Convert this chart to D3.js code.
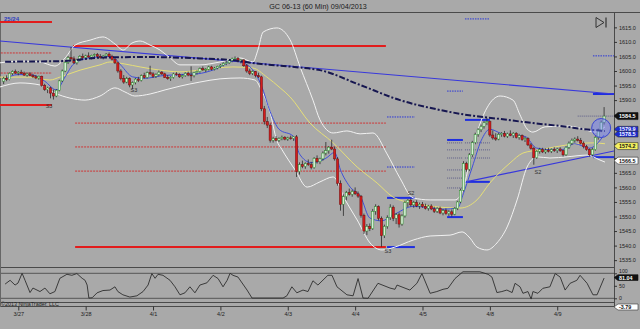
<!DOCTYPE html>
<html><head><meta charset="utf-8">
<script src="https://cdn.jsdelivr.net/npm/d3@7"></script>
<style>body{margin:0;background:#a9a9a9;}svg{display:block;font-family:"Liberation Sans",Arial,sans-serif;}</style>
</head><body><svg id="c" width="640" height="329"></svg>
<script>
// ---------- DATA ----------
const titleText = "GC 06-13 (60 Min)  09/04/2013";
const dayStartIdx = [5, 28, 51, 74, 97, 120, 143, 166, 189];
const dayLabels = ["3/27","3/28","4/1","4/2","4/3","4/4","4/5","4/8","4/9"];
const priceTicks = [1535,1540,1545,1550,1555,1560,1565,1570,1575,1580,1585,1590,1595,1600,1605,1610,1615];
const oscTicks = [0,50,100];

const opens = [1596.5,1597.5,1597,1599.2,1599.8,1599.3,1599.6,1599.2,1598.6,1599,
1598.4,1598,1597.6,1598.2,1595,1593.6,1594.2,1592.4,1591.4,1593.4,
1596.6,1600,1603,1604.6,1604.2,1602.8,1603.8,1605,1604.6,1605.2,
1604.8,1605.4,1605.6,1605,1604.6,1605.2,1605.8,1605,1604,1602.8,
1600,1597.4,1596.2,1597.4,1595.2,1596,1597.2,1596.8,1598.4,1597.8,
1599.4,1599,1598.2,1598.8,1599.6,1599,1597.8,1597.4,1597.8,1599,
1598.8,1598,1598.4,1599.2,1598.6,1598.4,1599.4,1599.8,1600.8,1600.4,
1600.6,1601.4,1600.6,1601,1601.6,1602,1602.6,1602.8,1603.6,1604.2,
1604.4,1603.4,1603.8,1601.8,1600,1599.2,1599.8,1598.4,1598,1587,
1582.6,1581.4,1576.2,1576.8,1576.2,1576.8,1577.2,1576.6,1577,1576.8,
1577.4,1565.4,1567.8,1567.2,1568.2,1567.8,1566.8,1570,1568.8,1569.8,
1571.8,1572.6,1573.8,1573.2,1569.8,1561.4,1554.2,1556.8,1558.2,1557.6,
1558.6,1557.8,1557,1550.4,1545,1546.6,1545.8,1551.8,1553.4,1549.4,
1543.4,1546.6,1549.6,1553.2,1549.4,1550.6,1547.4,1550.2,1554.8,1555.6,
1554,1554.8,1553.6,1554.2,1553.4,1552.8,1553.6,1552.6,1551.8,1552.8,
1551.2,1552,1551,1551.6,1550.8,1552.8,1555,1559,1568.2,1566.2,
1571.2,1575.4,1578.2,1579.8,1581,1582.2,1582.6,1578,1577,1576.6,
1578.2,1578.6,1577.6,1578.4,1577.8,1578.6,1577.2,1577.8,1576.4,1576.8,
1574.6,1573.4,1570.2,1572.4,1573,1572.2,1572.8,1572.4,1573,1572.6,
1573.2,1572.6,1571.2,1573.8,1575.2,1576.2,1576.6,1576.2,1575.2,1574,
1573,1571.2,1573,1577.2,1579.6,1582.4];
const highs = [1598,1598.5,1599.5,1600.2,1600.5,1600,1600.4,1599.8,1599.5,1599.6,
1599,1598.6,1598.4,1598.4,1595.6,1594.6,1594.6,1593.6,1593.8,1597,
1600.5,1603.4,1605.2,1608.2,1605,1604.2,1605.4,1606,1605.6,1606.4,
1605.6,1606,1606.2,1605.8,1605.4,1606.2,1606.4,1605.6,1604.6,1603.2,
1600.6,1598.6,1598,1597.8,1596.4,1597.6,1598,1598.8,1599.4,1599.8,
1601.8,1599.6,1599.2,1600.2,1600,1599.4,1598.6,1598.2,1599.4,1599.6,
1599.2,1598.8,1599.6,1599.8,1601.6,1599.6,1600.2,1601.2,1601.6,1601,
1601.8,1601.8,1601.4,1601.8,1602.4,1603,1603.4,1604,1604.6,1605,
1604.8,1604,1604,1602.4,1600.8,1600.2,1600,1599.4,1598.4,1588,
1584.2,1582,1577.4,1577.6,1577.2,1577.8,1577.6,1577.4,1577.8,1577.6,
1578,1568.6,1569.2,1568.6,1569.6,1568.8,1570.4,1571,1570.2,1572.4,
1575.6,1574.2,1576.4,1574,1570.4,1562.4,1557.6,1558.8,1559.6,1559.2,
1560,1558.6,1557.4,1551,1547.4,1547.6,1552.6,1554.2,1553.8,1550,
1547.2,1550.4,1554.2,1553.8,1551.2,1551.4,1550.8,1555.4,1556,1556.2,
1555.4,1555.6,1554.8,1555,1554.4,1554,1554.2,1553.4,1553.2,1553.4,
1552.6,1552.8,1552.2,1552.4,1553.2,1555.4,1559.6,1569,1568.8,1571.8,
1576,1578.8,1580.4,1581.6,1582.8,1583.8,1583,1579.6,1578.6,1578.8,
1579,1579.4,1578.8,1579.6,1579,1579,1578.4,1578.2,1577.4,1577.2,
1575.2,1574,1572.8,1573.6,1573.6,1573.4,1573.6,1573.4,1573.8,1573.6,
1573.8,1573,1574.2,1575.8,1576.8,1577.2,1577.6,1577,1575.8,1574.6,
1573.4,1573.6,1577.6,1580.2,1583,1587.6];
const lows = [1595.5,1596.5,1596.8,1598.6,1599,1598.5,1599,1598.3,1598,1598.2,
1597.6,1597.2,1597,1594.6,1593.2,1592.4,1590.6,1590.2,1591,1593,
1596.2,1599.6,1602.4,1603.6,1602.4,1602.2,1603.4,1604.2,1604,1604.6,
1604,1604.8,1604.6,1604.2,1604,1604.8,1604.8,1603.6,1602.4,1599.4,
1596.8,1595.6,1595.8,1594.4,1593.8,1595.4,1596.2,1596.4,1597.4,1597.4,
1598.6,1597.6,1597.6,1598.2,1598.6,1597.6,1597,1596.6,1597.4,1598.4,
1597.6,1597.4,1598,1598.2,1596.6,1597.8,1598.8,1599.4,1600,1599.6,
1600.2,1600.2,1600.2,1600.6,1601,1601.6,1602,1602.4,1603,1603.6,
1603,1602.6,1601.4,1599.4,1598.6,1598.6,1597.8,1597.6,1586.2,1581.6,
1580.4,1575.4,1575.4,1575.8,1575.6,1576.2,1576.2,1576,1576.4,1576,
1563.6,1564.4,1566.6,1566.4,1567.4,1566.2,1566.4,1568.2,1568,1569.2,
1571,1571.6,1572.8,1569.2,1560.6,1552,1550.2,1555.6,1557.2,1556.8,
1557.4,1556.4,1549.6,1544,1543.6,1545,1545.4,1550.6,1548.6,1539.6,
1542.6,1545.8,1548.8,1548.4,1547.4,1546.2,1546.8,1549.6,1553.2,1553.4,
1553,1553.2,1552.6,1553,1552.4,1552,1552.2,1551.2,1551.2,1550.8,
1550.4,1550.6,1550.2,1550,1550.4,1552.2,1554.6,1558.6,1565.4,1565.6,
1570.4,1574.8,1577.4,1579,1580.2,1581.4,1577.4,1576.4,1576,1576.2,
1577.4,1577.2,1577,1577.6,1577,1576.8,1576.4,1576,1575.6,1574.2,
1573,1567.8,1569.8,1571.6,1571.8,1571.6,1572,1571.8,1572.2,1571.8,
1572.2,1570.6,1570.8,1573.2,1574.6,1575.4,1575.8,1574.8,1573.4,1572.6,
1570.6,1570.6,1572.6,1576.4,1579,1581.6];
const closes = [1597.5,1597,1599.2,1599.8,1599.3,1599.6,1599.2,1598.6,1599,1598.4,
1598,1597.6,1598.2,1595,1593.6,1594.2,1592.4,1591.4,1593.4,1596.6,
1600,1603,1604.6,1604.2,1602.8,1603.8,1605,1604.6,1605.2,1604.8,
1605.4,1605.6,1605,1604.6,1605.2,1605.8,1605,1604,1602.8,1600,
1597.4,1596.2,1597.4,1595.2,1596,1597.2,1596.8,1598.4,1597.8,1599.4,
1599,1598.2,1598.8,1599.6,1599,1597.8,1597.4,1597.8,1599,1598.8,
1598,1598.4,1599.2,1598.6,1598.4,1599.4,1599.8,1600.8,1600.4,1600.6,
1601.4,1600.6,1601,1601.6,1602,1602.6,1602.8,1603.6,1604.2,1604.4,
1603.4,1603.8,1601.8,1600,1599.2,1599.8,1598.4,1598,1587,1582.6,
1581.4,1576.2,1576.8,1576.2,1576.8,1577.2,1576.6,1577,1576.8,1577.4,
1565.4,1567.8,1567.2,1568.2,1567.8,1566.8,1570,1568.8,1569.8,1571.8,
1572.6,1573.8,1573.2,1569.8,1561.4,1554.2,1556.8,1558.2,1557.6,1558.6,
1557.8,1557,1550.4,1545,1546.6,1545.8,1551.8,1553.4,1549.4,1543.4,
1546.6,1549.6,1553.2,1549.4,1550.6,1547.4,1550.2,1554.8,1555.6,1554,
1554.8,1553.6,1554.2,1553.4,1552.8,1553.6,1552.6,1551.8,1552.8,1551.2,
1552,1551,1551.6,1550.8,1552.8,1555,1559,1568.2,1566.2,1571.2,
1575.4,1578.2,1579.8,1581,1582.2,1582.6,1578,1577,1576.6,1578.2,
1578.6,1577.6,1578.4,1577.8,1578.6,1577.2,1577.8,1576.4,1576.8,1574.6,
1573.4,1570.2,1572.4,1573,1572.2,1572.8,1572.4,1573,1572.6,1573.2,
1572.6,1571.2,1573.8,1575.2,1576.2,1576.6,1576.2,1575.2,1574,1573,
1571.2,1573,1577.2,1579.6,1582.4,1584.5];

// Bollinger upper / lower / middle (yellow), read as [bar index, price] vertices
const upperBand = [[-1.3,1602.8],[5.6,1603.4],[12.4,1603.1],[17.5,1601.7],[21,1604.5],[24.4,1608.9],[29.5,1610.6],[33.9,1611.7],[38,1609.3],[40.8,1607.2],[43.8,1609.6],[46.6,1610.3],[50,1608.9],[53.4,1607.2],[56.8,1604.5],[60.2,1602.1],[67,1602.1],[73.9,1603.1],[80.7,1604.5],[85.1,1603.1],[86.8,1607.2],[88.6,1613.4],[93.3,1614.8],[97.8,1610.7],[101.2,1601.4],[105.6,1590],[108,1583.2],[112.5,1578.7],[117.2,1579.4],[121.7,1578.4],[126.1,1578.7],[130.9,1571.5],[135.3,1563.2],[139.8,1556.4],[145.6,1555.7],[154.1,1555.7],[156.8,1559.1],[159.2,1569.4],[161.6,1578.7],[165,1587.3],[169.5,1591.4],[173.9,1590],[176.3,1584.9],[178.7,1580.1],[180.7,1579],[184.8,1580.8],[192.3,1581.1],[196.8,1580.4],[201.9,1579],[205.3,1580.8]];
const lowerBand = [[-1.3,1594.5],[5.6,1595.9],[12.4,1595.2],[17.5,1592.4],[22.6,1590.7],[27.8,1590],[32.9,1591.4],[38,1594.2],[41.4,1592.8],[44.8,1591.4],[50,1592.1],[55.1,1593.5],[60.2,1594.8],[67,1596.2],[73.9,1597.3],[80.7,1597.6],[85.8,1596.9],[88.2,1593],[90.9,1586],[93.3,1576],[95,1573],[99.5,1566],[103.6,1560.1],[108,1561.9],[112.5,1563.6],[116.6,1555.7],[120.7,1548.8],[125.1,1540.9],[129.2,1538.5],[133.6,1539.5],[139.8,1541.9],[145.6,1543.3],[152.4,1543.6],[156.5,1544.7],[159.2,1542.6],[161.6,1539.5],[165,1538.5],[168.4,1540.9],[171.9,1546.4],[175.3,1555.7],[178.7,1567],[182.1,1570.5],[186.5,1570.1],[192.3,1570.5],[199.2,1571.1],[203.6,1569.4],[205.3,1568.7]];
const midBand = [[-1.3,1597.9],[9,1597.9],[15.8,1596.9],[19.2,1597.9],[26.1,1600.3],[32.9,1602.1],[36.3,1603.1],[41.4,1602.4],[46.6,1601.4],[53.4,1600.3],[60.2,1599.7],[67,1600.3],[78.3,1601.4],[85.1,1601],[89.9,1597.9],[94.4,1594.2],[97.8,1591.1],[104.6,1582.1],[112.5,1575.3],[120.7,1567],[127.5,1561.5],[132.9,1556.7],[139.8,1554.6],[145.6,1553.6],[155.8,1552.9],[161.6,1555.7],[166,1561.5],[172.9,1568.4],[177.3,1571.8],[183.1,1572.9],[192.3,1574.6],[201.2,1575.3],[205.3,1575]];
const fastAvg = [[0,1597],[5,1598.8],[10,1598.6],[14,1596.5],[18,1593.5],[21,1598],[24,1602.5],[30,1604.6],[37,1605],[40,1602],[44,1598],[48,1597.5],[55,1598.5],[66,1599],[72,1600.5],[79,1603.5],[84,1601.5],[88,1595],[91,1586],[94,1580],[99,1577.5],[101,1571.5],[105,1568.5],[110,1570],[113,1572],[115,1566],[118,1560.5],[122,1556.5],[125,1549.5],[129,1548.5],[133,1550.5],[140,1553.5],[150,1552.5],[155,1553],[157,1558],[160,1567],[163,1576],[166,1580],[170,1578.5],[178,1577.5],[182,1573.5],[190,1572.8],[195,1575],[200,1573.5],[205,1578]];
const slowAvg = [[0.5,1603.2],[20,1603.4],[33,1604.6],[50,1604.8],[67,1604.3],[77,1603.8],[88,1602.4],[101,1601.2],[108,1600.3],[121.7,1595.2],[135.3,1590],[149,1586.6],[158.2,1584.9],[169.5,1583.5],[180.7,1582.1],[190,1581.1],[201.2,1579.7],[205.3,1579.4]];
const trendUpper = [[-1.3,1610.3],[208.4,1592.1]];
const trendLower = [[157.8,1561.9],[208.4,1572.5]];

// horizontal level segments: [start idx, end idx, price]
const redThick = [[-2,16.5,1616.8],[-2,16.5,1588.3],[23.7,130.5,1608.6],[24.4,130.5,1539.5]];
const redDotted = [[-2,16.5,1606.2],[-2,16.5,1599.3],[24.4,130.5,1582.1],[24.4,130.5,1573.9],[24.4,130.5,1565.6]];
const blueThick = [[157.5,166,1583.2],[151.4,156.8,1576.3],[157.5,166,1561.9],[151.4,156.8,1549.8],[130.9,140.4,1556.4],[130.9,140.4,1539.5],[201.2,208.4,1592.1],[201.2,208.4,1570.4]];
const blueDotted = [[157.5,166,1617.9],[151.4,156.8,1593.1],[130.9,140.4,1584.2],[130.9,140.4,1567.0],[201.2,208.4,1605.2]];
const navyDotted = [[151.4,156.8,1575.3],[151.4,156.8,1572.9],[151.4,156.8,1570.1],[151.4,156.8,1566],[151.4,156.8,1563.2],[151.4,156.8,1559.8],[157.5,166,1575.3],[157.5,166,1572.9],[157.5,166,1570.1],[196,208.4,1584.5]];

const pivotLabels = ["S3","S3","S3","S2","S2"];
const pivotIdx = [15.5,44.5,131.2,139.1,182.4];
const pivotPrice = [1588.0,1593.5,1538.1,1558.1,1565.3];

const tagTexts = ["1584.5","1579.9","1578.5","1574.2","1566.5"];
const tagLevels = [1584.5,1580.0,1578.3,1574.2,1569.2];
const tagFills = ["#111111","#1b2bd0","#1b2bd0","#f4f060","#ffffff"];
const tagInk = ["#ffffff","#ffffff","#ffffff","#111111","#111111"];

const oscIdx = [0.5,2.2,3.9,4.9,6.3,7.3,9,10,12.4,14.1,15.8,17.5,19.2,21.6,23.3,25,26.8,27.8,28.5,29.1,30.2,31.9,33.9,36.3,38,39,40.7,43.1,45.5,47.6,49.3,50.6,51.7,52.7,54.4,56.8,58.5,60.2,61.9,63.6,65.3,67,69.4,71.5,73.2,74.9,76.3,77.3,78.3,80,83.1,84.8,95.4,96.7,98.4,100.1,102.2,103.9,105.6,107.3,110.7,112.1,113.8,117.2,119.3,121,122.7,124.4,127.8,131.9,133.6,134.3,138.7,141.1,142.8,145.6,147.9,150,151.7,154.1,156.8,162.6,165.4,166.7,168.4,170.1,171.8,173.6,174.6,176.3,177.3,179,180.1,180.7,182.4,184.1,186.5,188.3,190,191.7,193.4,195.7,196.8,199.2,201.2,202.6,205];
const oscVal = [57,72,53,61,100,72,23,41,27,41,18,27,80,96,92,99,80,72,53,1,2,22,31,33,46,27,14,5,10,27,53,99,80,96,92,72,46,14,22,46,22,53,62,92,79,46,72,100,92,85,33,1,1,10,46,22,33,27,70,53,92,92,46,14,10,79,1,0,60,41,36,53,33,60,99,20,27,36,40,79,106,106,96,85,23,27,33,23,60,46,20,27,-3,27,20,40,46,99,85,33,60,72,92,60,14,14,81];
const oscTagTexts = ["81.04","-3.79"];

// ---------- DRAW ----------
const W = 640, H = 329, axisX = 614;
const svg = d3.select("#c");
const x = d3.scaleLinear().domain([0, 205]).range([3.65, 3.65 + 205 * 2.929]);
const y = d3.scaleLinear().domain([1535, 1615]).range([260.15, 27.35]);
const yo = d3.scaleLinear().domain([0, 100]).range([298.3, 273.3]);

svg.append("rect").attr("width", W).attr("height", H).attr("fill", "#a9a9a9");
const defs = svg.append("defs");
defs.append("clipPath").attr("id", "mainClip").append("rect").attr("x", 0).attr("y", 13).attr("width", axisX).attr("height", 254);
defs.append("clipPath").attr("id", "oscClip").append("rect").attr("x", 0).attr("y", 268).attr("width", axisX).attr("height", 34);

// frame
const frameColor = "#4a4a4a";
const hl = (y0, x1, x2, c, w) => svg.append("line").attr("x1", x1).attr("x2", x2).attr("y1", y0).attr("y2", y0).attr("stroke", c || frameColor).attr("stroke-width", w || 1);
hl(12.5, 0, W);
hl(267.5, 0, axisX);
hl(273.3, 0, axisX, "#555");
hl(298.3, 0, axisX, "#555");
hl(302.5, 0, axisX);
hl(306.5, 0, axisX);
svg.append("line").attr("x1", axisX + 0.5).attr("x2", axisX + 0.5).attr("y1", 12.5).attr("y2", 307).attr("stroke", frameColor);
svg.append("line").attr("x1", 0.5).attr("x2", 0.5).attr("y1", 12.5).attr("y2", 307).attr("stroke", "#666");

svg.append("text").attr("x", 318).attr("y", 9).attr("text-anchor", "middle").attr("font-size", 7.2).attr("fill", "#1a1a1a").text(titleText);

const main = svg.append("g").attr("clip-path", "url(#mainClip)");

function levels(data, color, width, dash, op) {
  main.append("g").selectAll("line").data(data).join("line")
    .attr("x1", d => x(d[0])).attr("x2", d => x(d[1]))
    .attr("y1", d => y(d[2])).attr("y2", d => y(d[2]))
    .attr("stroke", color).attr("stroke-width", width)
    .attr("stroke-dasharray", dash || null).attr("opacity", op || 1);
}
levels(redDotted, "#d42a2a", 1, "2,1", 0.9);
levels(redThick, "#e21c1c", 2);
levels(blueDotted, "#2a36d8", 1, "1.5,1");
levels(navyDotted, "#35357a", 0.8, "1,1", 0.8);
levels(blueThick, "#1e2ee0", 2);

const line = d3.line().x(d => x(d[0])).y(d => y(d[1])).curve(d3.curveMonotoneX);
const straight = d3.line().x(d => x(d[0])).y(d => y(d[1]));
main.append("path").attr("d", straight(trendUpper)).attr("fill", "none").attr("stroke", "#3838dc").attr("stroke-width", 1.1);
main.append("path").attr("d", straight(trendLower)).attr("fill", "none").attr("stroke", "#3838dc").attr("stroke-width", 1.1);
main.append("path").attr("d", line(upperBand)).attr("fill", "none").attr("stroke", "#f2f2f2").attr("stroke-width", 1);
main.append("path").attr("d", line(lowerBand)).attr("fill", "none").attr("stroke", "#f2f2f2").attr("stroke-width", 1);
main.append("path").attr("d", line(midBand)).attr("fill", "none").attr("stroke", "#e6df78").attr("stroke-width", 1);
main.append("path").attr("d", line(fastAvg)).attr("fill", "none").attr("stroke", "#4050d8").attr("stroke-width", 1);

// candles
const bars = d3.range(closes.length).map(i => ({i, o: opens[i], h: highs[i], l: lows[i], c: closes[i]}));
const cg = main.append("g");
cg.selectAll("line").data(bars).join("line")
  .attr("x1", d => x(d.i)).attr("x2", d => x(d.i))
  .attr("y1", d => y(d.h)).attr("y2", d => y(d.l))
  .attr("stroke", "#2a2a2a").attr("stroke-width", 0.8);
cg.selectAll("rect").data(bars).join("rect")
  .attr("x", d => x(d.i) - 1.1).attr("width", 2.2)
  .attr("y", d => y(Math.max(d.o, d.c)))
  .attr("height", d => Math.max(0.8, Math.abs(y(d.o) - y(d.c))))
  .attr("fill", d => d.c >= d.o ? "#d6eed6" : "#d41c1c")
  .attr("stroke", d => d.c >= d.o ? "#2b8a2b" : "#6a1010").attr("stroke-width", 0.5);

// slow average dash-dot
main.append("path").attr("d", line(slowAvg)).attr("fill", "none").attr("stroke", "#161650").attr("stroke-width", 2).attr("stroke-dasharray", "6,2,2,2");

// circle marker
const lastI = closes.length - 1;
main.append("circle").attr("cx", x(lastI - 1)).attr("cy", y(1580.4)).attr("r", 9.5)
  .attr("fill", "rgba(110,125,255,0.45)").attr("stroke", "#3a46d0").attr("stroke-width", 1);

// pivot labels
main.append("g").selectAll("text").data(pivotLabels).join("text")
  .attr("x", (d, k) => x(pivotIdx[k])).attr("y", (d, k) => y(pivotPrice[k]) + 2)
  .attr("text-anchor", "middle").attr("font-size", 5.5).attr("fill", "#333").text(d => d);
svg.append("text").attr("x", 4).attr("y", 21).attr("font-size", 6).attr("font-weight", "bold").attr("fill", "#3040c0").text("25/24");

// play-to-end icon
svg.append("path").attr("d", "M596,17.5 L604,22.5 L596,27.5 Z").attr("fill", "none").attr("stroke", "#333").attr("stroke-width", 1);
svg.append("line").attr("x1", 606).attr("x2", 606).attr("y1", 17.5).attr("y2", 27.5).attr("stroke", "#333").attr("stroke-width", 1.2);

// price axis (labels hidden behind the value tags are not drawn, as in the reference)
const tagYs = tagLevels.map(v => y(v));
const pa = svg.append("g").attr("transform", `translate(${axisX},0)`)
  .call(d3.axisRight(y).tickValues(priceTicks).tickFormat(d3.format(".1f")).tickSize(3).tickPadding(2));
pa.select(".domain").remove();
pa.selectAll("line").attr("stroke", "#333");
pa.selectAll("text").attr("font-size", 5.5).attr("fill", "#222").attr("font-family", "Liberation Sans, Arial, sans-serif");
pa.selectAll(".tick").filter(d => tagYs.some(t => Math.abs(t - y(d)) < 6.5)).select("text").remove();

function tag(yy, txt, fill, ink, hh) {
  const h2 = (hh || 7.2) / 2;
  svg.append("path").attr("d", `M${axisX},${yy} L${axisX + 4},${yy - h2} L${axisX + 24},${yy - h2} L${axisX + 24},${yy + h2} L${axisX + 4},${yy + h2} Z`)
    .attr("fill", fill).attr("stroke", fill === "#111111" ? "#111" : "#333").attr("stroke-width", 0.6);
  svg.append("text").attr("x", axisX + 5).attr("y", yy + 1.9).attr("font-size", 5.4).attr("font-weight", "bold").attr("fill", ink).text(txt);
}
tagTexts.forEach((t, k) => tag(tagYs[k], t, tagFills[k], tagInk[k], k === 1 || k === 2 ? 5.8 : 7));

// oscillator
const og = svg.append("g").attr("clip-path", "url(#oscClip)");
og.append("path").attr("d", d3.line().x((d, k) => x(oscIdx[k])).y(d => yo(d))(oscVal))
  .attr("fill", "none").attr("stroke", "#2e2e2e").attr("stroke-width", 0.9);
const oa = svg.append("g").attr("transform", `translate(${axisX},0)`)
  .call(d3.axisRight(yo).tickValues(oscTicks).tickFormat(d3.format("d")).tickSize(3).tickPadding(2));
oa.select(".domain").remove();
oa.selectAll("line").attr("stroke", "#333");
oa.selectAll("text").attr("font-size", 5.2).attr("fill", "#222").attr("font-family", "Liberation Sans, Arial, sans-serif");
oa.selectAll(".tick").filter(d => d === 100).select("text").attr("dy", "-0.25em");
tag(277.6, oscTagTexts[0], "#111111", "#ffffff", 5.8);
tag(307, oscTagTexts[1], "#ffffff", "#111111", 6);

svg.append("text").attr("x", 1).attr("y", 306).attr("font-size", 5.4).attr("fill", "#222").text("\u00a92013 NinjaTrader, LLC");

// time axis
const xa = svg.append("g").attr("transform", "translate(0,306.5)")
  .call(d3.axisBottom(x).tickValues(dayStartIdx).tickFormat((d, k) => dayLabels[k]).tickSize(4).tickPadding(1.5));
xa.select(".domain").remove();
xa.selectAll("line").attr("stroke", "#333");
xa.selectAll("text").attr("font-size", 5.5).attr("fill", "#222").attr("font-family", "Liberation Sans, Arial, sans-serif");
</script></body></html>
